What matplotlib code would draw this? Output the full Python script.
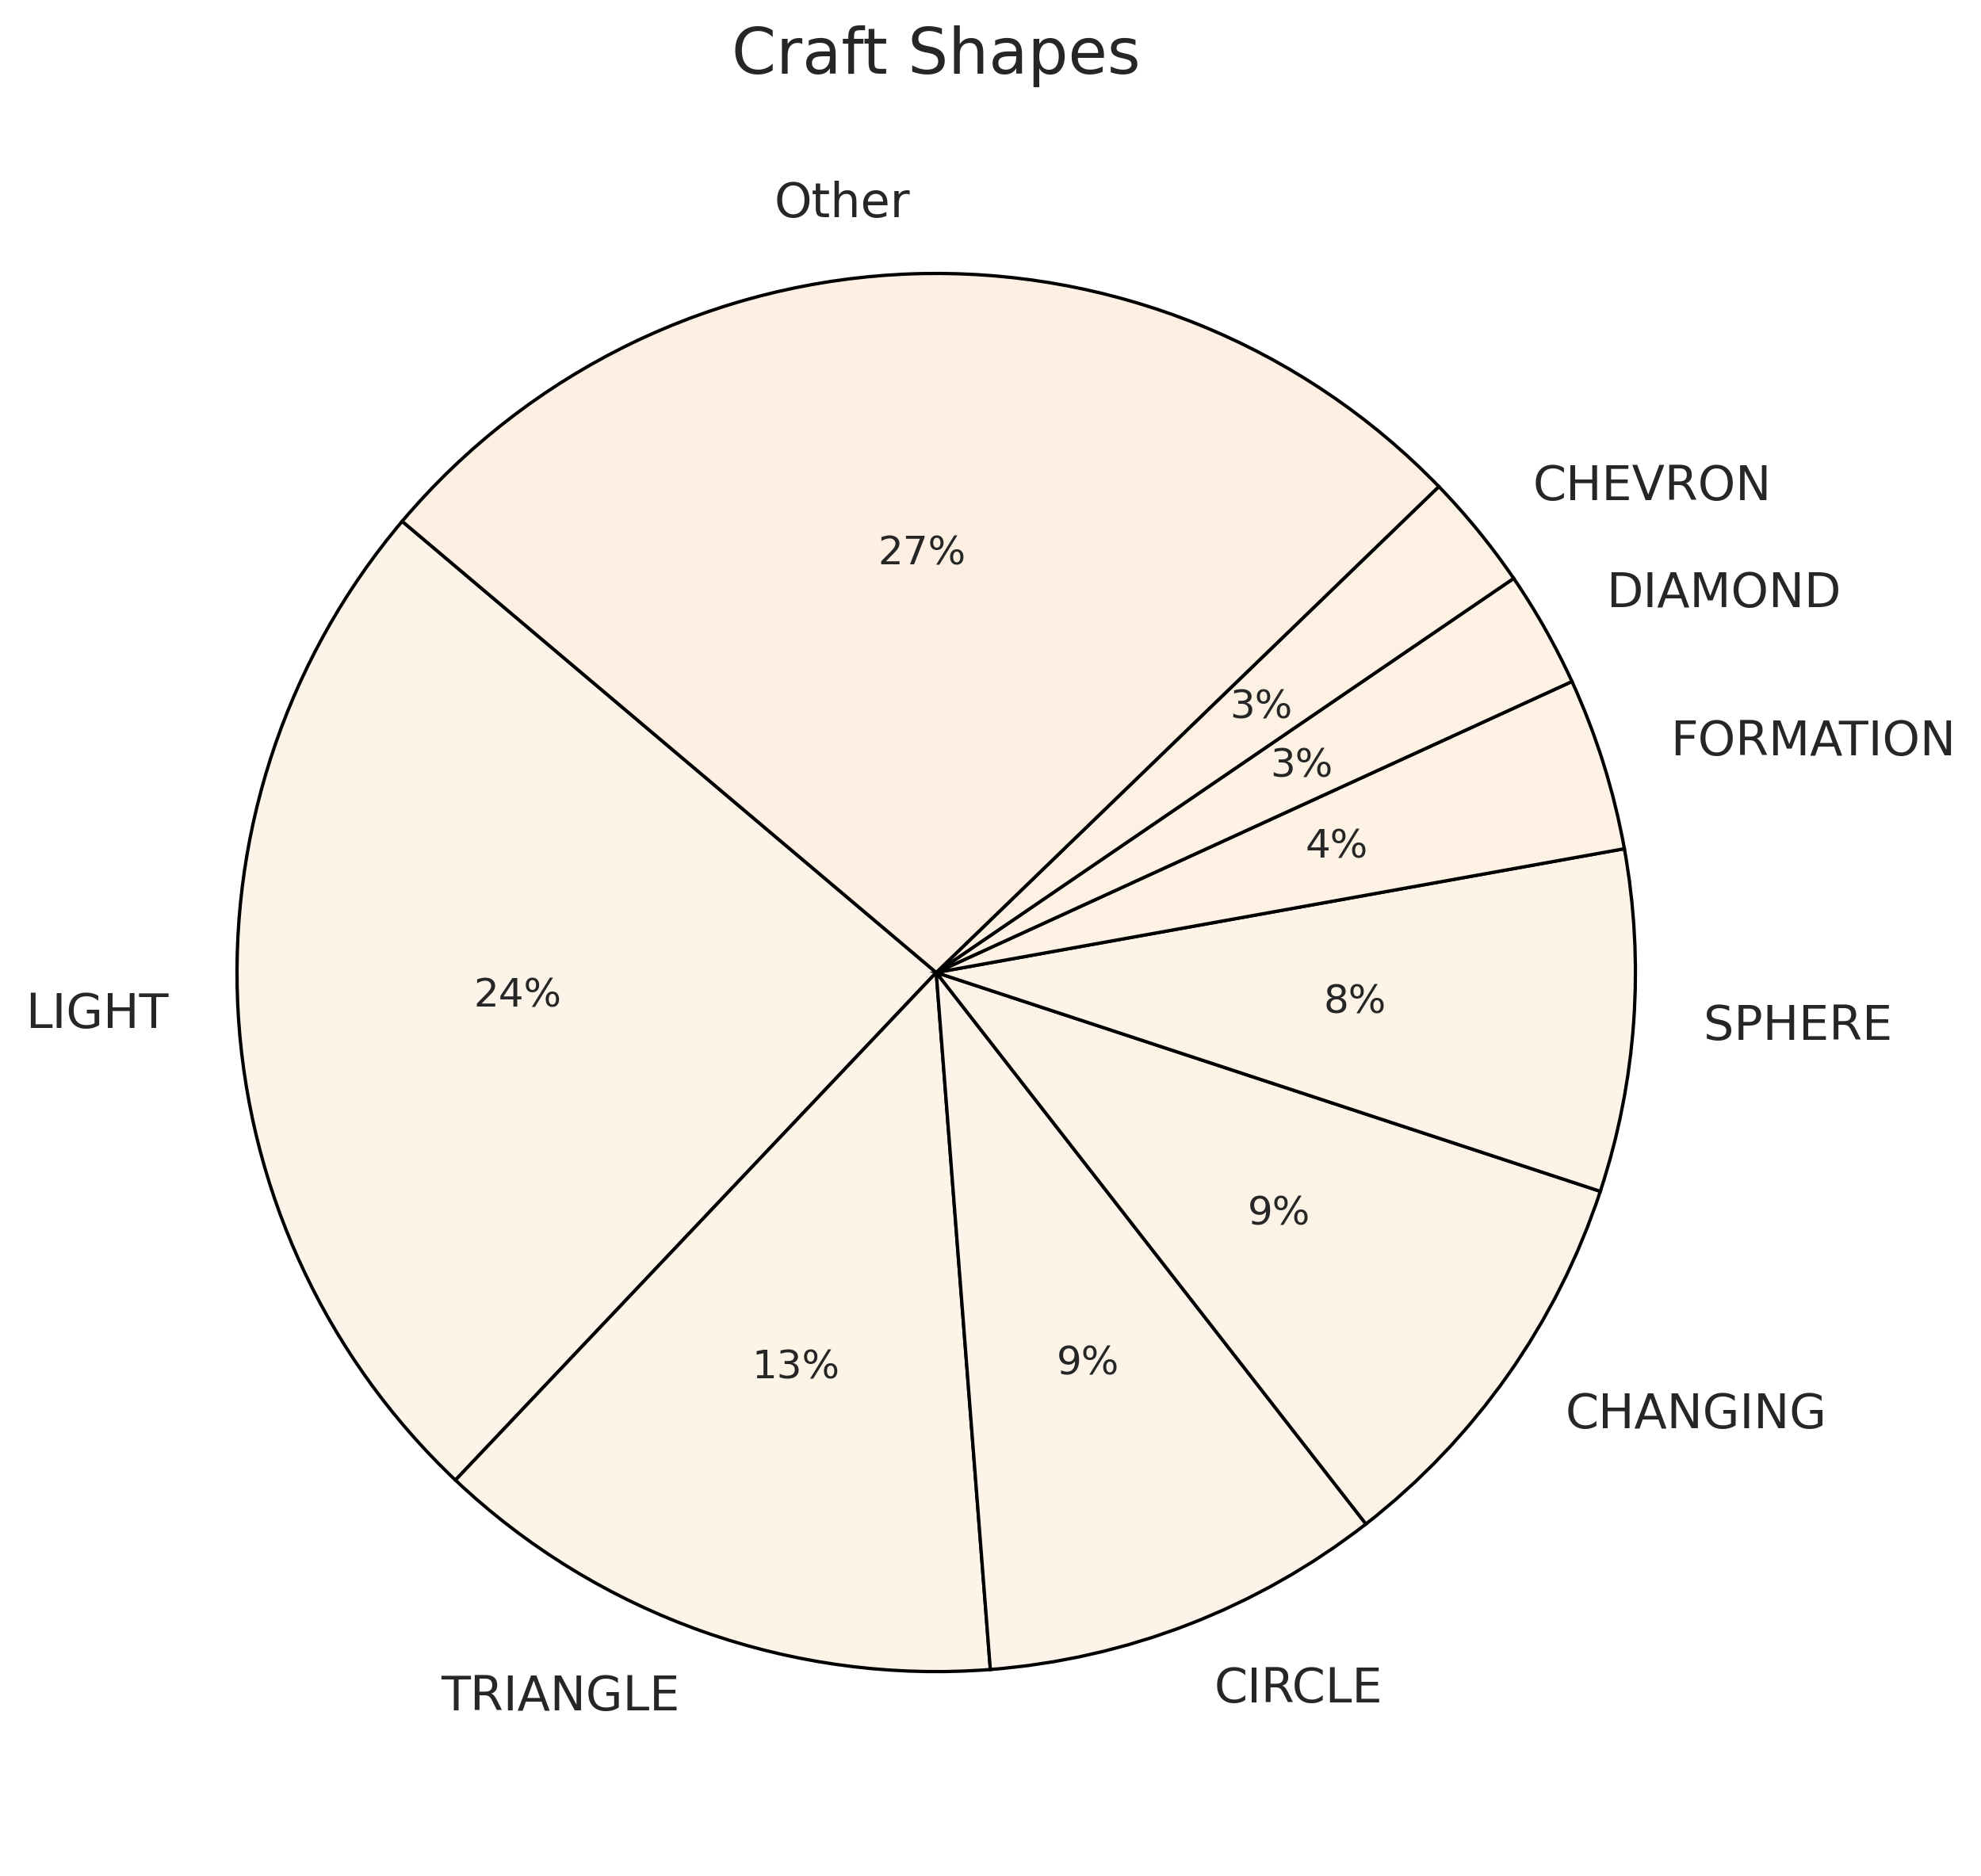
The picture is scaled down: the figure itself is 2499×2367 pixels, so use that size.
import matplotlib
matplotlib.use('Agg')
import matplotlib.pyplot as plt

shapes = ['LIGHT', 'TRIANGLE', 'CIRCLE', 'CHANGING', 'SPHERE',
          'FORMATION', 'DIAMOND', 'CHEVRON', 'Other']
shares = [24.1, 13.3, 9.3, 9.4, 7.9, 4.0, 2.7, 2.7, 26.6]
colors = ['#fcf4e8', '#fdf4e8', '#fdf3e9', '#fdf2e6', '#fdf3e6',
          '#fdf2e4', '#fdf2e4', '#fdf1e4', '#fdf0e3']

plt.rcParams['font.family'] = ['DejaVu Sans']
text_color = '#262626'

fig = plt.figure(figsize=(2499 / 300, 2367 / 300), dpi=300)
ax = fig.add_axes([0.0314, 0.0158, 0.8824, 0.9316])

wedges, texts, autotexts = ax.pie(
    shares, labels=shapes, colors=colors, autopct='%1.0f%%',
    startangle=139.8, counterclock=True,
    wedgeprops={'edgecolor': 'black', 'linewidth': 1.0},
    textprops={'color': text_color})

for t in texts:
    t.set_fontsize(14.5)
for t in autotexts:
    t.set_fontsize(12)

fig.text(0.4726, 0.97, 'Craft Shapes', ha='center', va='center',
         fontsize=19.3, color=text_color)

fig.savefig('out.png', dpi=300)
